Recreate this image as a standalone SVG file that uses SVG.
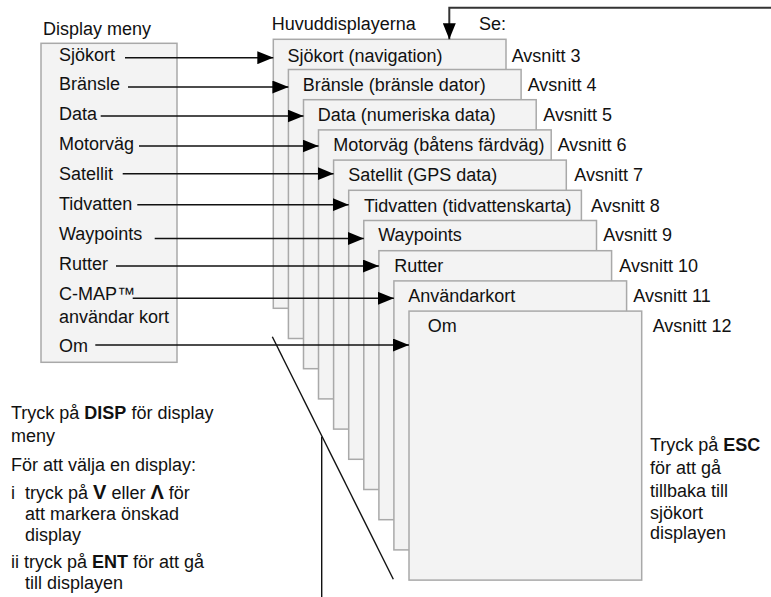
<svg xmlns="http://www.w3.org/2000/svg" width="771" height="597" viewBox="0 0 771 597">
<defs>
<style>
text{font-family:"Liberation Sans",Arial,sans-serif;font-size:18px;fill:#111}
.b{font-weight:bold}
.box{fill:#f3f3f3;stroke:#a9a9a9;stroke-width:1.5}
.ln{stroke:#111;stroke-width:1.4;fill:none}
.arr{stroke:#111;stroke-width:1.4;fill:none;marker-end:url(#ah)}
</style>
<marker id="ah" viewBox="0 0 16 13" refX="16" refY="6.5" markerWidth="16" markerHeight="13" markerUnits="userSpaceOnUse" orient="auto">
<path d="M0,0 L16,6.5 L0,13 Z" fill="#000"/>
</marker>
</defs>
<rect width="771" height="597" fill="#fff"/>

<g id="menu">
<text x="43" y="35">Display meny</text>
<rect class="box" x="41" y="43.3" width="136" height="319"/>
<text x="59" y="60.5">Sjökort</text>
<text x="59" y="90">Bränsle</text>
<text x="59" y="120">Data</text>
<text x="59" y="150">Motorväg</text>
<text x="59" y="179.5">Satellit</text>
<text x="59" y="210">Tidvatten</text>
<text x="59" y="240">Waypoints</text>
<text x="59" y="270">Rutter</text>
<text x="59" y="300">C-MAP™</text>
<text x="59" y="322.5">användar kort</text>
<text x="59" y="352">Om</text>
</g>

<g id="header">
<text x="271.7" y="30">Huvuddisplayerna</text>
<text x="479" y="30">Se:</text>
</g>

<g id="display-sjokort">
<rect class="box" x="273.3" y="39.3" width="232.7" height="269"/>
<text x="287.5" y="61.7">Sjökort (navigation)</text>
<text x="511.7" y="61.7">Avsnitt 3</text>
</g>
<g id="display-bransle">
<rect class="box" x="288.4" y="69.5" width="232.7" height="269"/>
<text x="302.7" y="90.5">Bränsle (bränsle dator)</text>
<text x="527.7" y="90.5">Avsnitt 4</text>
</g>
<g id="display-data">
<rect class="box" x="303.5" y="99.7" width="232.7" height="269"/>
<text x="317.7" y="120.5">Data (numeriska data)</text>
<text x="543.3" y="120.5">Avsnitt 5</text>
</g>
<g id="display-motorvag">
<rect class="box" x="318.5" y="129.9" width="232.7" height="269"/>
<text x="333.3" y="150.7">Motorväg (båtens färdväg)</text>
<text x="557.7" y="150.7">Avsnitt 6</text>
</g>
<g id="display-satellit">
<rect class="box" x="333.6" y="160.1" width="232.7" height="269"/>
<text x="348.3" y="180.5">Satellit (GPS data)</text>
<text x="574.3" y="180.5">Avsnitt 7</text>
</g>
<g id="display-tidvatten">
<rect class="box" x="348.7" y="190.3" width="232.7" height="269"/>
<text x="364" y="211.5">Tidvatten (tidvattenskarta)</text>
<text x="591" y="211.5">Avsnitt 8</text>
</g>
<g id="display-waypoints">
<rect class="box" x="363.8" y="220.5" width="232.7" height="269"/>
<text x="378.3" y="241">Waypoints</text>
<text x="603.3" y="241">Avsnitt 9</text>
</g>
<g id="display-rutter">
<rect class="box" x="378.9" y="250.7" width="232.7" height="269"/>
<text x="394.3" y="271.5">Rutter</text>
<text x="619.3" y="271.5">Avsnitt 10</text>
</g>
<g id="display-anvandarkort">
<rect class="box" x="393.9" y="280.9" width="232.7" height="269"/>
<text x="408.3" y="301.5">Användarkort</text>
<text x="633.3" y="301.5">Avsnitt 11</text>
</g>
<g id="display-om">
<rect class="box" x="409" y="311.1" width="232.7" height="269"/>
<text x="427.7" y="332.3">Om</text>
<text x="652.7" y="332.3">Avsnitt 12</text>
</g>

<g id="connectors">
<line class="arr" x1="125" y1="57.7" x2="273.3" y2="57.7"/>
<line class="arr" x1="128" y1="87" x2="288.4" y2="87"/>
<line class="arr" x1="100.7" y1="116" x2="303.5" y2="116"/>
<line class="arr" x1="139" y1="146" x2="318.5" y2="146"/>
<line class="arr" x1="122.7" y1="173.7" x2="333.6" y2="173.7"/>
<line class="arr" x1="137.3" y1="204.7" x2="348.7" y2="204.7"/>
<line class="arr" x1="154.7" y1="238.5" x2="363.8" y2="238.5"/>
<line class="arr" x1="116" y1="266" x2="378.9" y2="266"/>
<line class="arr" x1="132.7" y1="298.3" x2="393.9" y2="298.3"/>
<line class="arr" x1="95.3" y1="345" x2="409" y2="345"/>
<path d="M771,7.7 H449.3 V39.3" fill="none" stroke="#333" stroke-width="2" marker-end="url(#ah)"/>
<line class="ln" x1="272.3" y1="336.7" x2="393.3" y2="579.3"/>
<line class="ln" x1="321.7" y1="436.7" x2="321.7" y2="597"/>
</g>

<g id="instructions">
<text x="11" y="419.3">Tryck på <tspan class="b">DISP</tspan> för display</text>
<text x="11" y="442">meny</text>
<text x="11" y="470.7">För att välja en display:</text>
<text x="11" y="499">i</text>
<text x="25" y="499">tryck på <tspan class="b" font-size="20">V</tspan> eller <tspan class="b" font-size="20">Λ</tspan> för</text>
<text x="25" y="520">att markera önskad</text>
<text x="25" y="540.7">display</text>
<text x="11" y="567.7">ii tryck på <tspan class="b">ENT</tspan> för att gå</text>
<text x="25" y="589">till displayen</text>
</g>

<g id="esc-note">
<text x="650" y="450.7">Tryck på <tspan class="b">ESC</tspan></text>
<text x="650" y="474.3">för att gå</text>
<text x="650" y="496.7">tillbaka till</text>
<text x="650" y="519.3">sjökort</text>
<text x="650" y="539.3">displayen</text>
</g>
</svg>
